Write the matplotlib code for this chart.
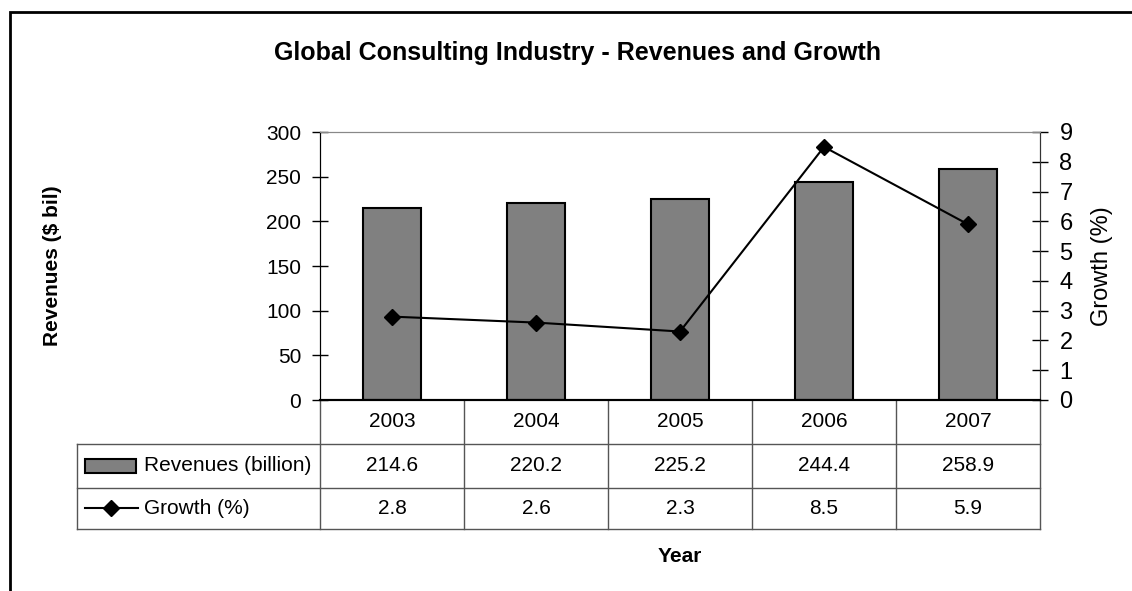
import matplotlib
matplotlib.use("Agg")
import matplotlib.pyplot as plt
from matplotlib.patches import Rectangle
from matplotlib.lines import Line2D

# --- Data ---
years = ["2003", "2004", "2005", "2006", "2007"]
revenues = [214.6, 220.2, 225.2, 244.4, 258.9]
growth = [2.8, 2.6, 2.3, 8.5, 5.9]
rev_labels = ["214.6", "220.2", "225.2", "244.4", "258.9"]
growth_labels = ["2.8", "2.6", "2.3", "8.5", "5.9"]

plt.rcParams["font.family"] = ["Liberation Sans", "DejaVu Sans"]

BAR_GREY = "#808080"
GRID_GREY = "#555555"

fig = plt.figure(figsize=(11.32, 5.91), dpi=100)
ax = fig.add_axes([320 / 1132, 1 - 400 / 591, 720 / 1132, 268 / 591])
ax2 = ax.twinx()

x = list(range(len(years)))

# --- Bars (left axis) ---
ax.bar(x, revenues, width=0.4, color=BAR_GREY, edgecolor="black", linewidth=1.5, zorder=2)
ax.set_xlim(-0.5, len(years) - 0.5)
ax.set_ylim(0, 300)
ax.set_yticks(range(0, 301, 50))
ax.set_xticks([])
ax.tick_params(axis="y", direction="inout", length=11, width=1, labelsize=15, pad=8)

# --- Line (right axis) ---
ax2.plot(x, growth, color="black", lw=1.5, marker="D", ms=8, zorder=3)
ax2.set_ylim(0, 9)
ax2.set_yticks(range(0, 10))
ax2.tick_params(axis="y", direction="inout", length=11, width=1, labelsize=17, pad=8.5)
ax2.set_ylabel("Growth (%)", fontsize=17, labelpad=13)

for a in (ax, ax2):
    a.spines["top"].set_color("#888888")
    a.spines["left"].set_color("black")
    a.spines["right"].set_color("#333333")
    a.spines["bottom"].set_color("black")
    a.spines["bottom"].set_linewidth(1.5)

ax.set_ylabel("Revenues ($ bil)", fontsize=15, fontweight="bold")
ax.yaxis.set_label_coords(-0.358, 0.5)

# --- Data table drawn under the axis ---
trans = ax.get_xaxis_transform()
row_h = 0.164
rows_y = [0, -row_h, -2 * row_h, -0.48]
left_x = -2.19
right_x = len(years) - 0.5
lc = GRID_GREY

# horizontal lines
for yy in rows_y[1:]:
    ax.add_line(Line2D([left_x, right_x], [yy, yy], transform=trans, color=lc, lw=1, clip_on=False))
# vertical lines
for i in range(len(years) + 1):
    xx = i - 0.5
    ax.add_line(Line2D([xx, xx], [0, rows_y[-1]], transform=trans, color=lc, lw=1, clip_on=False))
ax.add_line(Line2D([left_x, left_x], [rows_y[1], rows_y[-1]], transform=trans, color=lc, lw=1, clip_on=False))

for i in x:
    ax.text(i, (rows_y[0] + rows_y[1]) / 2, years[i], transform=trans, ha="center", va="center", fontsize=15)
    ax.text(i, (rows_y[1] + rows_y[2]) / 2, rev_labels[i], transform=trans, ha="center", va="center", fontsize=15)
    ax.text(i, (rows_y[2] + rows_y[3]) / 2, growth_labels[i], transform=trans, ha="center", va="center", fontsize=15)

# legend keys in row headers
ym1 = (rows_y[1] + rows_y[2]) / 2
ym2 = (rows_y[2] + rows_y[3]) / 2
ax.add_patch(Rectangle((-2.135, ym1 - 0.025), 0.355, 0.05, transform=trans, facecolor=BAR_GREY,
                       edgecolor="black", lw=1.5, clip_on=False))
ax.text(-1.72, ym1, "Revenues (billion)", transform=trans, ha="left", va="center", fontsize=15)
ax.add_line(Line2D([-2.135, -1.765], [ym2, ym2], transform=trans, color="black", lw=1.5, clip_on=False))
ax.add_line(Line2D([-1.95], [ym2], transform=trans, color="black", marker="D", ms=8, clip_on=False))
ax.text(-1.72, ym2, "Growth (%)", transform=trans, ha="left", va="center", fontsize=15)

ax.text(0.5, -0.585, "Year", transform=ax.transAxes, ha="center", va="center", fontsize=15, fontweight="bold")

fig.text(577 / 1132, 1 - 53 / 591, "Global Consulting Industry - Revenues and Growth",
         ha="center", va="center", fontsize=18, fontweight="bold")

# outer chart frame (cut off at the right and bottom)
fig.add_artist(Rectangle((10 / 1132, -0.05), 1.2, 1 - 12 / 591 + 0.05, transform=fig.transFigure,
                         facecolor="none", edgecolor="black", lw=2))

fig.savefig("out.png", dpi=100)
